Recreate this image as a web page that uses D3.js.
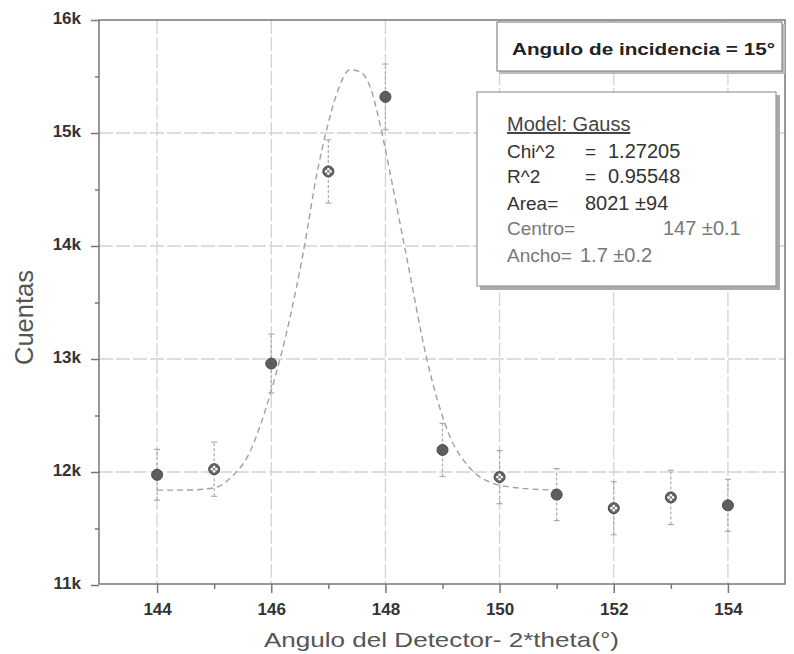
<!DOCTYPE html>
<html>
<head>
<meta charset="utf-8">
<script src="https://cdn.jsdelivr.net/npm/d3@7"></script>
<style>
  body { margin: 0; background: #fff; }
  svg { display: block; font-family: "Liberation Sans", Arial, sans-serif; }
</style>
</head>
<body>
<div id="chart"></div>
<script>
// measured points
const angles = [144, 145, 146, 147, 148, 149, 150, 151, 152, 153, 154];
const counts = [11975, 12025, 12960, 14660, 15320, 12195, 11955, 11800, 11680, 11775, 11705];
const errors = [225, 240, 260, 280, 290, 235, 235, 230, 235, 240, 230];
const markers = ["filled", "open", "filled", "open", "filled", "filled", "open", "filled", "open", "open", "filled"];

// Gauss fit curve
const fitX = [144, 144.5, 145, 145.33, 145.6, 145.8, 146, 146.33, 146.56, 146.8, 146.98, 147.15, 147.38,
              147.56, 147.73, 147.9, 148.08, 148.38, 148.73, 149.1, 149.48, 149.83, 150.3, 151];
const fitY = [11840, 11840, 11860, 11970, 12150, 12400, 12720, 13370, 13940, 14640, 15050, 15350, 15560,
              15540, 15410, 15090, 14650, 13880, 12990, 12350, 12035, 11910, 11860, 11840];

const xTicks = [144, 146, 148, 150, 152, 154];
const yTicks = [11000, 12000, 13000, 14000, 15000, 16000];
const yTickLabels = ["11k", "12k", "13k", "14k", "15k", "16k"];

const fitTitle = "Model: Gauss";
const fitLabels = ["Chi^2", "R^2", "Area=", "Centro=", "Ancho="];
const fitEquals = ["=", "=", "", "", ""];
const fitValues = ["1.27205", "0.95548", "8021 ±94", "147 ±0.1", "1.7 ±0.2"];

const W = 794, H = 654;
const pLeft = 99, pRight = 785, pTop = 20, pBottom = 584;

const svg = d3.select("#chart").append("svg")
    .attr("width", W)
    .attr("height", H);

const x = d3.scaleLinear().domain([143, 155]).range([pLeft + 1, pRight]);
const y = d3.scaleLinear().domain([11000, 16000]).range([pBottom + 1, pTop]);

// grid
svg.append("g")
    .selectAll("line")
    .data(xTicks)
    .join("line")
    .attr("x1", d => x(d)).attr("x2", d => x(d))
    .attr("y1", pTop).attr("y2", pBottom)
    .attr("stroke", "#d2d2d2")
    .attr("stroke-width", 1.3)
    .attr("stroke-dasharray", "14,3");

svg.append("g")
    .selectAll("line")
    .data(yTicks.slice(1, -1))
    .join("line")
    .attr("x1", pLeft).attr("x2", pRight)
    .attr("y1", d => y(d)).attr("y2", d => y(d))
    .attr("stroke", "#d2d2d2")
    .attr("stroke-width", 1.3)
    .attr("stroke-dasharray", "14,3");

// frame
svg.append("rect")
    .attr("x", pLeft).attr("y", pTop)
    .attr("width", pRight - pLeft).attr("height", pBottom - pTop)
    .attr("fill", "none")
    .attr("stroke", "#777")
    .attr("stroke-width", 1.5);

// axes
const xAxis = d3.axisBottom(x)
    .tickValues(xTicks)
    .tickSize(9)
    .tickSizeOuter(0)
    .tickPadding(10)
    .tickFormat(d3.format("d"));

const xMinor = d3.axisBottom(x)
    .tickValues(d3.range(145, 155, 2))
    .tickSize(5)
    .tickSizeOuter(0)
    .tickFormat("");

const yAxis = d3.axisLeft(y)
    .tickValues(yTicks)
    .tickSize(8)
    .tickSizeOuter(0)
    .tickPadding(10)
    .tickFormat((d, i) => yTickLabels[i]);

const yMinor = d3.axisLeft(y)
    .tickValues(d3.range(11500, 16000, 1000))
    .tickSize(4)
    .tickSizeOuter(0)
    .tickFormat("");

function styleAxis(g) {
    g.select(".domain").remove();
    g.selectAll("line").attr("stroke", "#777").attr("stroke-width", 1.5);
    g.selectAll("text")
        .attr("fill", "#333")
        .attr("font-size", 17)
        .attr("font-weight", "bold")
        .attr("font-family", "'Liberation Sans', Arial, sans-serif");
}

svg.append("g").attr("transform", `translate(0,${pBottom})`).call(xAxis).call(styleAxis);
svg.append("g").attr("transform", `translate(0,${pBottom})`).call(xMinor).call(styleAxis);
svg.append("g").attr("transform", `translate(${pLeft},0)`).call(yAxis).call(styleAxis)
    .selectAll("text").attr("dy", "0.2em");
svg.append("g").attr("transform", `translate(${pLeft},0)`).call(yMinor).call(styleAxis);

// axis titles
svg.append("text")
    .text("Angulo del Detector- 2*theta(°)")
    .attr("x", 264)
    .attr("y", 647)
    .attr("textLength", 355)
    .attr("lengthAdjust", "spacingAndGlyphs")
    .attr("font-size", 21)
    .attr("fill", "#555");

svg.append("text")
    .text("Cuentas")
    .attr("transform", "translate(33,365) rotate(-90)")
    .attr("textLength", 95)
    .attr("lengthAdjust", "spacingAndGlyphs")
    .attr("font-size", 26)
    .attr("fill", "#555");

// fit curve
const fitData = fitX.map((d, i) => [d, fitY[i]]);
svg.append("path")
    .datum(fitData)
    .attr("d", d3.line().x(d => x(d[0])).y(d => y(d[1])).curve(d3.curveMonotoneX))
    .attr("fill", "none")
    .attr("stroke", "#a0a0a0")
    .attr("stroke-width", 1.4)
    .attr("stroke-dasharray", "6,4");

// points
const data = angles.map((a, i) => ({ a: a, c: counts[i], e: errors[i], m: markers[i] }));

const bars = svg.append("g")
    .attr("stroke", "#aaa")
    .attr("stroke-width", 1.2);

bars.selectAll("line.v")
    .data(data)
    .join("line")
    .attr("class", "v")
    .attr("x1", d => x(d.a)).attr("x2", d => x(d.a))
    .attr("y1", d => y(d.c - d.e)).attr("y2", d => y(d.c + d.e))
    .attr("stroke-dasharray", "3,2");

bars.selectAll("line.cap")
    .data(data.flatMap(d => [d.c + d.e, d.c - d.e].map(v => ({ a: d.a, v: v }))))
    .join("line")
    .attr("class", "cap")
    .attr("x1", d => x(d.a) - 3).attr("x2", d => x(d.a) + 3)
    .attr("y1", d => y(d.v)).attr("y2", d => y(d.v));

const pts = svg.append("g")
    .selectAll("g")
    .data(data)
    .join("g")
    .attr("transform", d => `translate(${x(d.a)},${y(d.c)})`);

pts.filter(d => d.m === "filled")
    .append("circle")
    .attr("r", 5.5)
    .attr("fill", "#5e5e5e")
    .attr("stroke", "#4a4a4a")
    .attr("stroke-width", 1);

const open = pts.filter(d => d.m === "open");
open.append("circle")
    .attr("r", 5.5)
    .attr("fill", "#666")
    .attr("stroke", "#444")
    .attr("stroke-width", 1);
open.selectAll("circle.hole")
    .data([[-2.2, 0], [2.2, 0], [0, -2.2], [0, 2.2]])
    .join("circle")
    .attr("class", "hole")
    .attr("cx", d => d[0]).attr("cy", d => d[1])
    .attr("r", 1.3)
    .attr("fill", "#fff");

// title box
svg.append("rect")
    .attr("x", 499).attr("y", 24)
    .attr("width", 286).attr("height", 50)
    .attr("fill", "#bbb");
svg.append("rect")
    .attr("x", 497).attr("y", 22)
    .attr("width", 285).attr("height", 49)
    .attr("fill", "#fff")
    .attr("stroke", "#888")
    .attr("stroke-width", 1.2);
svg.append("text")
    .text("Angulo de incidencia = 15°")
    .attr("x", 512)
    .attr("y", 55)
    .attr("textLength", 263)
    .attr("lengthAdjust", "spacingAndGlyphs")
    .attr("font-size", 17)
    .attr("font-weight", "bold")
    .attr("fill", "#222");

// fit parameters box
svg.append("rect")
    .attr("x", 480).attr("y", 95)
    .attr("width", 300).attr("height", 195)
    .attr("fill", "#aaa");
svg.append("rect")
    .attr("x", 477).attr("y", 92)
    .attr("width", 299).attr("height", 194)
    .attr("fill", "#fff")
    .attr("stroke", "#999")
    .attr("stroke-width", 1.2);

svg.append("text")
    .text(fitTitle)
    .attr("x", 507)
    .attr("y", 131)
    .attr("font-size", 20)
    .attr("fill", "#444")
    .attr("text-decoration", "underline");

const rowBase = [158, 183, 210, 235, 262];
const rowValueX = [608, 608, 585, 663, 580];
const rowColor = ["#333", "#333", "#333", "#777", "#777"];
fitLabels.forEach((lab, i) => {
    const g = svg.append("g")
        .attr("font-size", 19)
        .attr("fill", rowColor[i]);
    g.append("text").text(lab).attr("x", 507).attr("y", rowBase[i]);
    if (fitEquals[i]) g.append("text").text(fitEquals[i]).attr("x", 585).attr("y", rowBase[i]);
    g.append("text").text(fitValues[i]).attr("x", rowValueX[i]).attr("y", rowBase[i])
        .attr("font-size", 20);
});
</script>
</body>
</html>
